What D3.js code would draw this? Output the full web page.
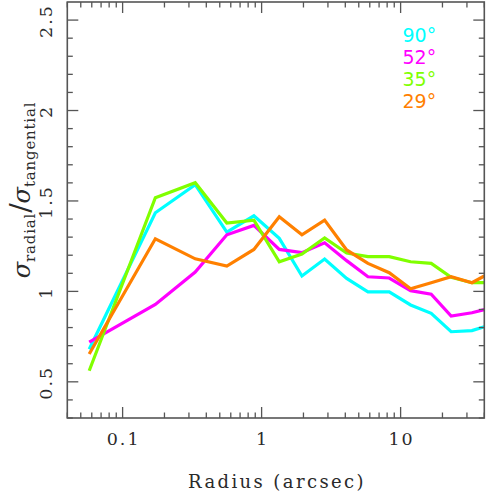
<!DOCTYPE html>
<html>
<head>
<meta charset="utf-8">
<script src="https://cdn.jsdelivr.net/npm/d3@7/dist/d3.min.js"></script>
<style>
  html, body { margin: 0; padding: 0; background: #fff; }
  svg { display: block; }
</style>
</head>
<body>
<script>
// ---- data ----
const radius = [0.0575, 0.172, 0.333, 0.562, 0.88, 1.34, 1.95, 2.84, 4.09, 5.82, 8.28, 11.8, 16.6, 23.1, 32.6, 40];
const seriesNames = ["90°", "52°", "35°", "29°"];
const seriesColors = ["#00ffff", "#ff00ff", "#80ff00", "#ff8000"];
const ratio90 = [0.68, 1.435, 1.59, 1.328, 1.418, 1.293, 1.085, 1.179, 1.072, 0.997, 0.997, 0.925, 0.879, 0.777, 0.783, 0.805];
const ratio52 = [0.72, 0.928, 1.107, 1.313, 1.365, 1.232, 1.214, 1.269, 1.17, 1.081, 1.074, 1.004, 0.984, 0.864, 0.882, 0.899];
const ratio35 = [0.561, 1.518, 1.601, 1.378, 1.394, 1.164, 1.207, 1.295, 1.212, 1.192, 1.192, 1.164, 1.155, 1.078, 1.048, 1.048];
const ratio29 = [0.654, 1.291, 1.18, 1.14, 1.232, 1.413, 1.313, 1.394, 1.229, 1.155, 1.103, 1.015, 1.048, 1.081, 1.048, 1.085];
const seriesValues = [ratio90, ratio52, ratio35, ratio29];
const xDomain = [0.04, 40];
const yDomain = [0.3, 2.6];
const xTickLabels = [0.1, 1, 10];
const yTickLabels = [0.5, 1, 1.5, 2, 2.5];

// ---- layout ----
const W = 489, H = 496;
const L = 67.3, R = 484.3, T = 2, B = 418;
const axisColor = "#555";
const textColor = "#2a2a2a";

const svg = d3.select("body").append("svg").attr("width", W).attr("height", H);

const x = d3.scaleLog().domain(xDomain).range([L, R]);
const y = d3.scaleLinear().domain(yDomain).range([B, T]);

// minor/major x ticks
const xMinor = [];
for (let dec = 0.01; dec <= 10; dec *= 10) {
  for (let m = 1; m <= 9; m++) {
    const v = +(m * dec).toPrecision(3);
    if (v >= xDomain[0] - 1e-9 && v <= xDomain[1] + 1e-9) xMinor.push(v);
  }
}
const yMinor = d3.range(3, 26).map(d => d / 10);

const majorLen = 11, minorLen = 5.5;
const isXMajor = v => xTickLabels.some(t => Math.abs(t - v) < 1e-9);
const isYMajor = v => yTickLabels.some(t => Math.abs(t - v) < 1e-9);

// clip
svg.append("clipPath").attr("id", "clip").append("rect")
  .attr("x", L).attr("y", T).attr("width", R - L).attr("height", B - T);

// lines
const line = d3.line().x((d, i) => x(radius[i])).y(d => y(d));
const g = svg.append("g").attr("clip-path", "url(#clip)");
seriesValues.forEach((vals, k) => {
  g.append("path").datum(vals)
    .attr("d", line)
    .attr("fill", "none")
    .attr("stroke", seriesColors[k])
    .attr("stroke-width", 3.2)
    .attr("stroke-linejoin", "miter");
});

// ticks
const ticks = svg.append("g").attr("stroke", axisColor).attr("stroke-width", 1.3);
xMinor.forEach(v => {
  const len = isXMajor(v) ? majorLen : minorLen;
  const px = x(v);
  ticks.append("line").attr("x1", px).attr("x2", px).attr("y1", B).attr("y2", B - len);
  ticks.append("line").attr("x1", px).attr("x2", px).attr("y1", T).attr("y2", T + len);
});
yMinor.forEach(v => {
  const len = isYMajor(v) ? majorLen : minorLen;
  const py = y(v);
  ticks.append("line").attr("x1", L).attr("x2", L + len).attr("y1", py).attr("y2", py);
  ticks.append("line").attr("x1", R).attr("x2", R - len).attr("y1", py).attr("y2", py);
});

// frame
svg.append("rect").attr("x", L).attr("y", T).attr("width", R - L).attr("height", B - T)
  .attr("fill", "none").attr("stroke", axisColor).attr("stroke-width", 1.6);

// x tick labels
const serif = "'DejaVu Serif', serif";
svg.append("g").selectAll("text").data(xTickLabels).join("text")
  .attr("x", d => x(d) + 1).attr("y", 445)
  .attr("text-anchor", "middle")
  .attr("font-family", serif).attr("font-size", 17.5).attr("letter-spacing", 2)
  .attr("fill", textColor)
  .text(d => d3.format("~g")(d));

// y tick labels (rotated)
svg.append("g").selectAll("text").data(yTickLabels).join("text")
  .attr("transform", d => `translate(52,${y(d) + 1}) rotate(-90)`)
  .attr("text-anchor", "middle")
  .attr("font-family", serif).attr("font-size", 17.5).attr("letter-spacing", 2)
  .attr("fill", textColor)
  .text(d => d3.format("~g")(d));

// x title
svg.append("text")
  .attr("x", 277).attr("y", 488)
  .attr("text-anchor", "middle")
  .attr("font-family", serif).attr("font-size", 18).attr("letter-spacing", 2.4)
  .attr("fill", textColor)
  .text("Radius (arcsec)");

// y title
const yt = svg.append("text")
  .attr("transform", "translate(30,190) rotate(-90)")
  .attr("text-anchor", "middle")
  .attr("font-family", serif).attr("fill", textColor);
yt.append("tspan").attr("font-size", 24).attr("font-style", "italic").text("σ");
yt.append("tspan").attr("font-size", 15).attr("dy", 5).attr("letter-spacing", 0.8).text("radial");
yt.append("tspan").attr("font-size", 28).attr("dy", -5).text("/");
yt.append("tspan").attr("font-size", 24).attr("font-style", "italic").text("σ");
yt.append("tspan").attr("font-size", 15).attr("dy", 5).attr("letter-spacing", 0.8).text("tangential");

// legend
svg.append("g").selectAll("text").data(seriesNames).join("text")
  .attr("x", 402.5).attr("y", (d, i) => 41.5 + i * 22.2)
  .attr("font-family", "'DejaVu Sans', sans-serif").attr("font-size", 19)
  .attr("fill", (d, i) => seriesColors[i])
  .text(d => d);
</script>
</body>
</html>
